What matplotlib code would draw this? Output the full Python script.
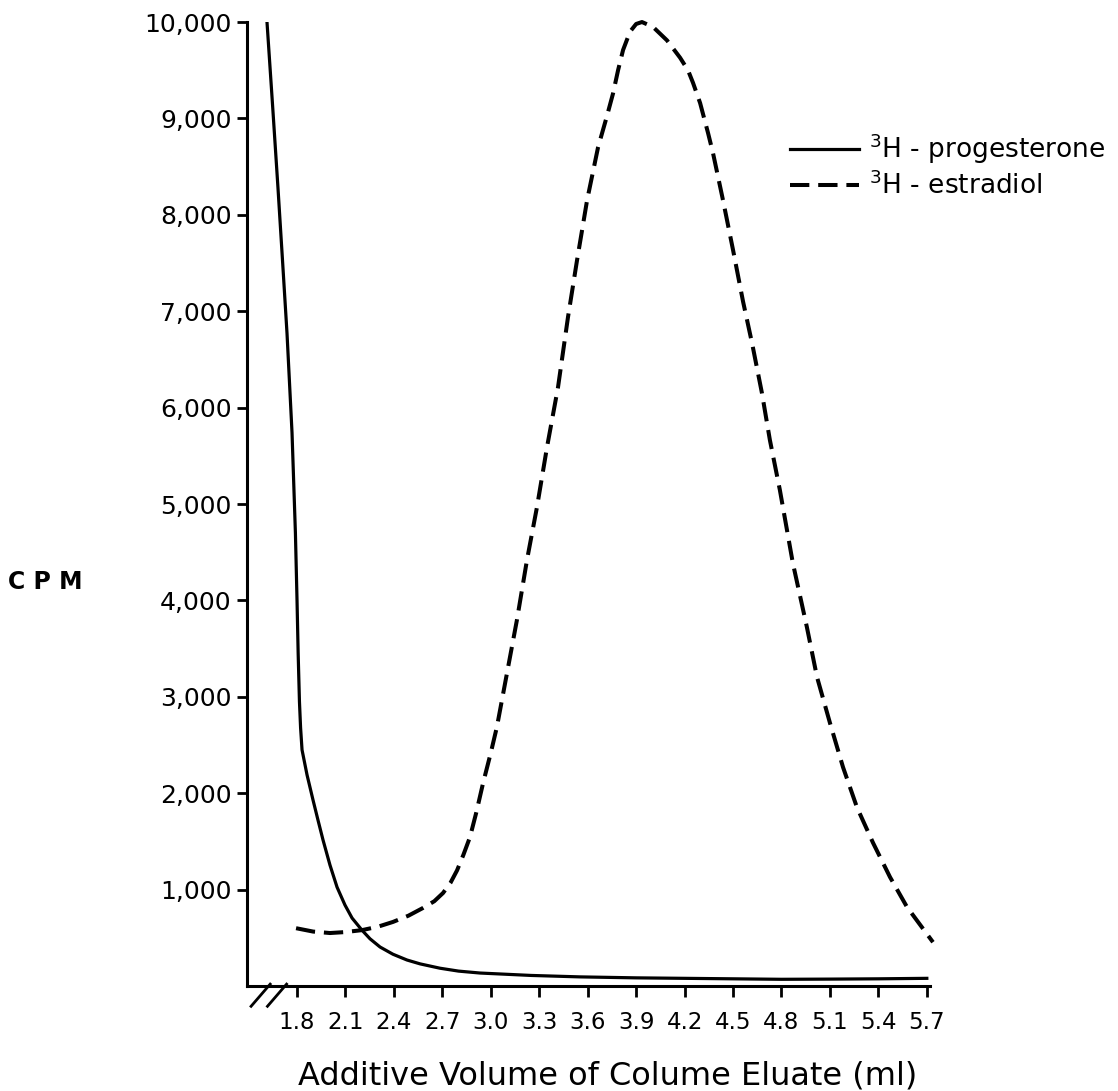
import matplotlib
matplotlib.use("Agg")
import matplotlib.pyplot as plt
from matplotlib.ticker import FixedLocator

# values
prog_ml = [1.614, 1.650, 1.682, 1.710, 1.738, 1.769, 1.790, 1.800, 1.807, 1.815,
           1.822, 1.831, 1.862, 1.899, 1.930, 1.961, 2.004, 2.048, 2.097, 2.141,
           2.202, 2.252, 2.314, 2.394, 2.481, 2.562, 2.685, 2.80, 2.933, 3.25,
           3.552, 3.9, 4.2, 4.5, 4.8, 5.1, 5.4, 5.7]
prog_cpm = [10000, 9100, 8280, 7530, 6770, 5740, 4700, 4000, 3450, 2950,
            2680, 2450, 2190, 1930, 1720, 1515, 1255, 1025, 840, 705,
            580, 490, 405, 330, 270, 230, 185, 155, 135, 110,
            95, 85, 80, 75, 70, 72, 75, 80]

estr_ml = [1.794, 1.90, 2.004, 2.10, 2.202, 2.30, 2.394, 2.49, 2.580, 2.65, 2.704,
           2.75, 2.791, 2.83, 2.871, 2.91, 2.952, 3.0, 3.038, 3.100, 3.162, 3.224,
           3.286, 3.348, 3.416, 3.478, 3.534, 3.596, 3.664, 3.720, 3.757, 3.788,
           3.819, 3.862, 3.90, 3.936, 4.004, 4.091, 4.172, 4.221, 4.252, 4.296,
           4.345, 4.376, 4.438, 4.500, 4.562, 4.620, 4.679, 4.728, 4.790, 4.870,
           4.957, 5.020, 5.100, 5.181, 5.267, 5.367, 5.472, 5.577, 5.738]
estr_cpm = [600, 565, 550, 560, 580, 615, 665, 730, 810, 880, 965,
            1070, 1200, 1360, 1545, 1800, 2105, 2420, 2690, 3245, 3800, 4420,
            4970, 5590, 6210, 6940, 7530, 8150, 8700, 9030, 9260, 9500,
            9710, 9900, 9980, 10000, 9950, 9810, 9630, 9500, 9370, 9160,
            8850, 8640, 8150, 7635, 7100, 6650, 6150, 5665, 5145, 4390,
            3725, 3205, 2730, 2270, 1855, 1485, 1130, 820, 455]

x_ticks = [1.8, 2.1, 2.4, 2.7, 3.0, 3.3, 3.6, 3.9, 4.2, 4.5, 4.8, 5.1, 5.4, 5.7]
x_labels = ["1.8", "2.1", "2.4", "2.7", "3.0", "3.3", "3.6", "3.9", "4.2",
            "4.5", "4.8", "5.1", "5.4", "5.7"]
y_ticks = [1000, 2000, 3000, 4000, 5000, 6000, 7000, 8000, 9000, 10000]
y_labels = ["1,000", "2,000", "3,000", "4,000", "5,000", "6,000", "7,000",
            "8,000", "9,000", "10,000"]

plt.rcParams['font.family'] = ['DejaVu Sans']

fig = plt.figure(figsize=(11.18, 10.91), dpi=100)
ax = fig.add_axes([0.2209, 0.0962, 0.611, 0.8836])

ax.plot(prog_ml, prog_cpm, color='black', linewidth=2.3, solid_joinstyle='round',
        label=r'$^3$H - progesterone')
ax.plot(estr_ml, estr_cpm, color='black', linewidth=2.9, linestyle=(0, (4.8, 2.2)),
        clip_on=False, label=r'$^3$H - estradiol')

ax.set_xlim(1.49, 5.72)
ax.set_ylim(0, 10000)

ax.xaxis.set_major_locator(FixedLocator(x_ticks))
ax.set_xticklabels(x_labels)
ax.yaxis.set_major_locator(FixedLocator(y_ticks))
ax.set_yticklabels(y_labels)

for side in ['top', 'right']:
    ax.spines[side].set_visible(False)
for side in ['left', 'bottom']:
    ax.spines[side].set_linewidth(2.2)

ax.tick_params(axis='y', direction='out', length=7, width=2, pad=4, labelsize=18)
ax.tick_params(axis='x', direction='out', length=8, width=2, pad=10, labelsize=16.5)

ax.set_xlabel("Additive Volume of Colume Eluate (ml)", fontsize=23, va='center')
ax.xaxis.set_label_coords((608 - 247) / 683, -0.093)
ax.text(-0.296, 0.419, "C P M", transform=ax.transAxes, fontsize=17,
        fontweight='bold', ha='center', va='center')

# axis break marks
for x0 in [0.006, 0.030]:
    ax.plot([x0, x0 + 0.028], [-0.021, 0.002], transform=ax.transAxes,
            color='black', linewidth=2, clip_on=False)

ax.legend(loc='upper left', bbox_to_anchor=(0.795, 0.886), frameon=False,
          fontsize=19, handlelength=2.6, handletextpad=0.4, labelspacing=0.2,
          borderaxespad=0, borderpad=0)

fig.savefig("out.png", dpi=100)
